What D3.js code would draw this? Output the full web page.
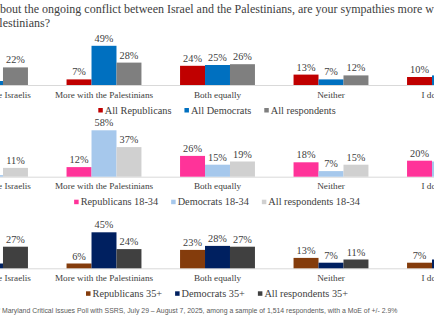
<!DOCTYPE html>
<html>
<head>
<meta charset="utf-8">
<script src="https://cdn.jsdelivr.net/npm/d3@7"></script>
<style>
  body { margin: 0; background: #fff; overflow: hidden; }
  svg { display: block; }
  .serif { font-family: "Liberation Serif", "DejaVu Serif", serif; fill: #404040; }
  .foot { font-family: "Liberation Sans", Arial, sans-serif; fill: #595959; }
</style>
</head>
<body>
<div id="chart"></div>
<script>
// chart data (the reference is cropped: first and last groups are partly off-screen)
const categories = ["More with the Israelis", "More with the Palestinians", "Both equally", "Neither", "I don't know"];

const seriesAll = ["All Republicans", "All Democrats", "All respondents"];
const allRepublicans = [44, 7, 24, 13, 10];
const allDemocrats = [5, 49, 25, 7, 12];
const allRespondents = [22, 28, 26, 12, 11];

const seriesYoung = ["Republicans 18-34", "Democrats 18-34", "All respondents 18-34"];
const youngRepublicans = [22, 12, 26, 18, 20];
const youngDemocrats = [2, 58, 15, 7, 19];
const youngRespondents = [11, 37, 19, 15, 17];

const seriesOld = ["Republicans 35+", "Democrats 35+", "All respondents 35+"];
const oldRepublicans = [50, 6, 23, 13, 7];
const oldDemocrats = [6, 45, 28, 7, 11];
const oldRespondents = [27, 24, 27, 11, 10];

const titleLine1 = "Thinking about the ongoing conflict between Israel and the Palestinians, are your sympathies more with the Israelis or";
const titleLine2 = "more with the Palestinians?";
const sourceText = "Source: University of Maryland Critical Issues Poll with SSRS, July 29 \u2013 August 7, 2025, among a sample of 1,514 respondents, with a MoE of +/- 2.9%";

const width = 434, height = 326;

const panels = [
  { series: seriesAll, values: [allRepublicans, allDemocrats, allRespondents],
    colors: ["#c00000", "#0070c0", "#7f7f7f"], base: 85 },
  { series: seriesYoung, values: [youngRepublicans, youngDemocrats, youngRespondents],
    colors: ["#ff3399", "#a6c8ec", "#d0d0d0"], base: 176.7 },
  { series: seriesOld, values: [oldRepublicans, oldDemocrats, oldRespondents],
    colors: ["#843c0c", "#002060", "#404040"], base: 268.3 }
];

const svg = d3.select("#chart").append("svg")
  .attr("width", width)
  .attr("height", height);

// x scale spans wider than the window, like the cropped original
const x = d3.scaleBand()
  .domain(categories)
  .range([-66.25, 501.25])
  .paddingInner(0.34)
  .paddingOuter(0.17);

const xSub = d3.scaleBand()
  .domain([0, 1, 2])
  .range([0, x.bandwidth()]);

// title
const t1 = svg.append("text").attr("class", "serif")
  .attr("y", 13).style("font-size", "12px").text("Thinking a");
const pre = t1.node().getComputedTextLength();
t1.text(titleLine1).attr("x", -pre);

svg.append("text").attr("class", "serif")
  .attr("x", 50).attr("y", 26.5)
  .attr("text-anchor", "end")
  .style("font-size", "12px")
  .text(titleLine2);

panels.forEach(function(p) {
  const y = d3.scaleLinear().domain([0, 100]).range([p.base, p.base - 80]);
  const g = svg.append("g");

  // baseline
  g.append("line")
    .attr("x1", -70).attr("x2", 510)
    .attr("y1", p.base + 0.5).attr("y2", p.base + 0.5)
    .attr("stroke", "#d9d9d9").attr("stroke-width", 1);

  const rows = [];
  categories.forEach(function(c, ci) {
    p.values.forEach(function(vals, si) {
      rows.push({ cat: c, s: si, v: vals[ci] });
    });
  });

  g.selectAll("rect")
    .data(rows)
    .join("rect")
      .attr("x", d => x(d.cat) + xSub(d.s))
      .attr("y", d => y(d.v))
      .attr("width", xSub.bandwidth())
      .attr("height", d => y(0) - y(d.v))
      .attr("fill", d => p.colors[d.s]);

  g.selectAll("text.val")
    .data(rows)
    .join("text")
      .attr("class", "val serif")
      .attr("x", d => x(d.cat) + xSub(d.s) + xSub.bandwidth() / 2)
      .attr("y", d => y(d.v) - 4)
      .attr("text-anchor", "middle")
      .style("font-size", "10.3px")
      .text(d => d.v + "%");

  g.selectAll("text.cat")
    .data(categories)
    .join("text")
      .attr("class", "cat serif")
      .attr("x", d => x(d) + x.bandwidth() / 2)
      .attr("y", p.base + 12.5)
      .attr("text-anchor", "middle")
      .style("font-size", "9.2px")
      .text(d => d);

  // legend, centred
  const leg = g.append("g");
  let pos = 0;
  p.series.forEach(function(name, i) {
    leg.append("rect")
      .attr("x", pos).attr("y", p.base + 23)
      .attr("width", 4.5).attr("height", 4.5)
      .attr("fill", p.colors[i]);
    const tx = leg.append("text").attr("class", "serif")
      .attr("x", pos + 6.5).attr("y", p.base + 28.5)
      .style("font-size", "10.3px")
      .text(name);
    pos += 6.5 + tx.node().getComputedTextLength() + 13;
  });
  pos -= 13;
  leg.attr("transform", "translate(" + (217 - pos / 2) + ",0)");
});

// source note
const f = svg.append("text").attr("class", "foot")
  .attr("y", 312.5).style("font-size", "6.9px").text("Source: University of ");
const fpre = f.node().getComputedTextLength();
f.text(sourceText).attr("x", -fpre);
</script>
</body>
</html>
